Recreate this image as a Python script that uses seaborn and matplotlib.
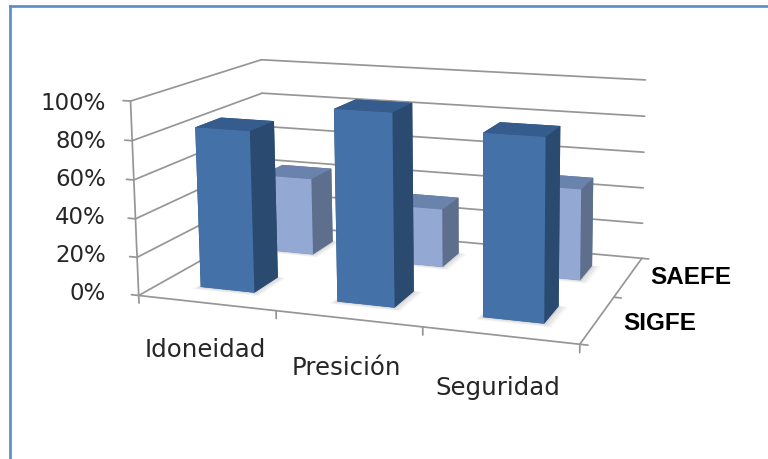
import numpy as np
import pandas as pd
import seaborn as sns
import matplotlib
matplotlib.use("Agg")
import matplotlib.pyplot as plt
from matplotlib.lines import Line2D
from mpl_toolkits.mplot3d.art3d import Poly3DCollection

categories = ["Idoneidad", "Presición", "Seguridad"]
series_names = ["SIGFE", "SAEFE"]
sigfe_values = [84, 98, 91]
saefe_values = [43, 32, 49]
y_ticks = [0, 20, 40, 60, 80, 100]

W, H = 768, 460
sns.set_theme(style="white")
plt.rcParams["font.family"] = ["DejaVu Sans"]

data = pd.DataFrame({
    "category": categories * 2,
    "series": ["SIGFE"] * 3 + ["SAEFE"] * 3,
    "value": sigfe_values + saefe_values,
})

front_cols = {"SIGFE": sns.color_palette(["#4472a8"])[0], "SAEFE": sns.color_palette(["#93a9d3"])[0]}
top_cols = {"SIGFE": "#355c8d", "SAEFE": "#6a83ad"}
side_cols = {"SIGFE": "#2b4a70", "SAEFE": "#5e6f8e"}
GRID = "#969696"
TEXT = "#262626"

fig = plt.figure(figsize=(W / 100, H / 100), dpi=100, facecolor="white")
ax = fig.add_axes([0, 0, 1, 1], projection="3d", computed_zorder=False, proj_type="ortho")
ax.set_axis_off()
ax.apply_aspect = lambda position=None: None
ax.set_xlim(0, 3)
ax.set_ylim(0, 2)
ax.set_zlim(0, 100)

# camera of the reference, fitted from the corners of the chart box
box_world = np.array([
    [0, 0, 0], [0, 0, 100], [0, 2, 0], [0, 2, 100],
    [3, 2, 0], [3, 2, 100], [3, 0, 0]], float)
box_pixel = np.array([
    [139, 293], [130, 103], [265, 229], [262, 59],
    [642, 256], [645, 82], [580, 348]], float)
rows = []
for (a, b, c), (u, v) in zip(box_world, box_pixel):
    rows.append([a, b, c, 1, 0, 0, 0, 0, -u * a, -u * b, -u * c, -u])
    rows.append([0, 0, 0, 0, a, b, c, 1, -v * a, -v * b, -v * c, -v])
P = np.linalg.svd(np.array(rows))[2][-1].reshape(3, 4)
P = P / P[2, 3]


def camera_matrix():
    to_display = np.array([[1, 0, 0], [0, -1, H], [0, 0, 1]], float)
    to_axes = ax.transData.inverted().get_matrix()
    G = to_axes @ to_display @ P
    depth = [-0.1, 1.0, -0.002, 0.0]
    return np.array([G[0], G[1], depth, G[2]])


ax.get_proj = camera_matrix


def line3(xs, ys, zs, **kw):
    ax.plot(xs, ys, zs, color=GRID, lw=1.25, zorder=1, clip_on=False, **kw)


for t in y_ticks:
    line3([0, 0], [0, 2], [t, t])
    line3([0, 3], [2, 2], [t, t])
    line3([-0.055, 0], [0, 0], [t, t])
line3([0, 0], [0, 0], [0, 100])
line3([0, 3], [0, 0], [0, 0])
line3([3, 3], [0, 2], [0, 0])
for i in range(len(categories) + 1):
    line3([i, i], [0, 0], [0, -4])
for j in range(len(series_names) + 1):
    line3([3, 3.05], [j, j], [0, 0])

BAR_W = 0.40
BAR_D = 0.38
for depth_i, name in reversed(list(enumerate(series_names))):
    sub = data[data["series"] == name]
    for cat_i, val in enumerate(sub["value"]):
        x0 = cat_i + (1 - BAR_W) / 2
        y0 = depth_i + (1 - BAR_D) / 2
        for pad, alpha in ((0.06, 0.05), (0.04, 0.08), (0.015, 0.12)):
            shadow = [[(x0 - pad / 2, y0 - pad, 0), (x0 + BAR_W + pad, y0 - pad, 0),
                       (x0 + BAR_W + pad, y0 + BAR_D, 0), (x0 - pad / 2, y0 + BAR_D, 0)]]
            ax.add_collection3d(Poly3DCollection(
                shadow, facecolor="#444444", edgecolor="none", alpha=alpha,
                zorder=5 + 10 * (1 - depth_i)))
        face_colors = [top_cols[name], top_cols[name], front_cols[name],
                       side_cols[name], side_cols[name], side_cols[name]]
        ax.bar3d(x0, y0, 0, BAR_W, BAR_D, val, color=face_colors, shade=False,
                 edgecolor="none", zorder=6 + 10 * (1 - depth_i) + cat_i)

for t, py in zip(y_ticks, [293, 256, 218, 180, 142, 104]):
    fig.text(106 / W, 1 - py / H, f"{t}%", ha="right", va="center",
             fontsize=16.5, color=TEXT)
for label, px, py in zip(categories, [205, 346, 498], [350, 368, 388]):
    fig.text(px / W, 1 - py / H, label, ha="center", va="center",
             fontsize=17.6, color=TEXT)
for label, px, py in zip(series_names, [660, 691], [323, 278]):
    fig.text(px / W, 1 - py / H, label, ha="center", va="center", family="Liberation Sans",
             fontsize=17.5, fontweight="bold", color="black")

frame = dict(transform=fig.transFigure, color="#5b8bc6", lw=1.9, solid_capstyle="projecting")
fig.add_artist(Line2D([9.5 / W, 1], [1 - 7 / H, 1 - 7 / H], **frame))
fig.add_artist(Line2D([9.5 / W, 9.5 / W], [0, 1 - 7 / H], **frame))

fig.savefig("out.png", dpi=100, facecolor="white")
